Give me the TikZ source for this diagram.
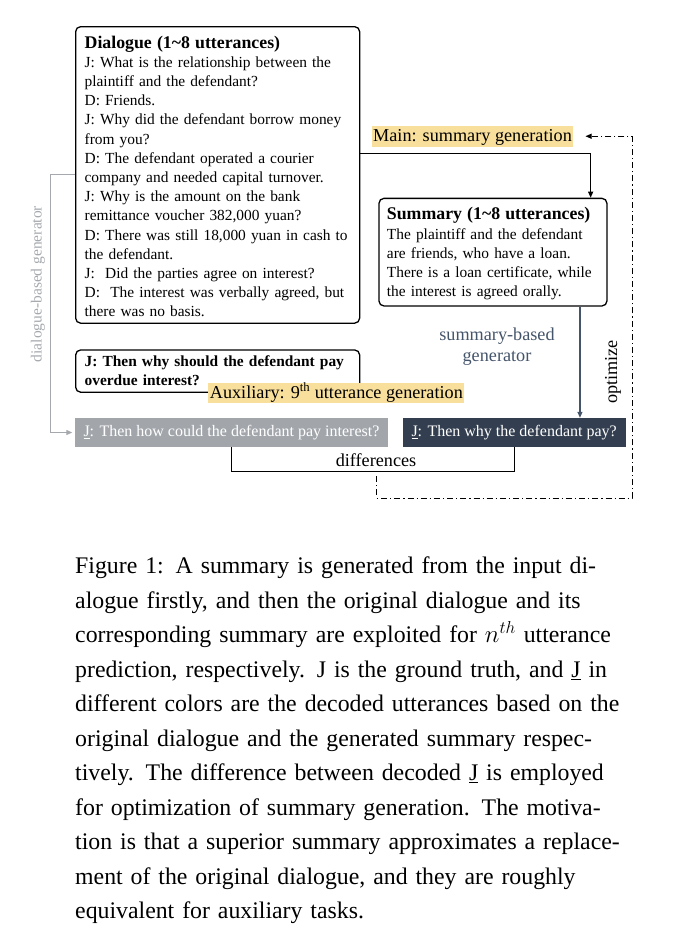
\documentclass[tikz,border=0pt]{standalone}
\usepackage{fontspec}
\setmainfont{Liberation Serif}
\usepackage{tikz}
\usetikzlibrary{arrows.meta, positioning, calc}
\definecolor{HiYellow}{HTML}{F9DF9C}
\definecolor{SlateBlue}{HTML}{44546A}
\definecolor{DarkSlate}{HTML}{333F50}
\definecolor{MidGray}{HTML}{A2A6AB}
\definecolor{LineGray}{HTML}{A5A9AE}

\newcommand{\bodysize}{\fontsize{15.4}{19.2}\selectfont}
\newcommand{\labelsize}{\fontsize{18.2}{21.7}\selectfont}
\newcommand{\capsize}{\fontsize{23.8}{34.5}\selectfont}
\newcommand{\boxtitle}[1]{{\fontsize{17.8}{21.7}\selectfont\bfseries\rule{0pt}{15.5pt}#1}}
\newcommand{\capline}[1]{\makebox[573pt][s]{#1}}

\begin{document}
\begin{tikzpicture}[x=1pt, y=-1pt,
    txtbox/.style={draw, rounded corners=5pt, line width=1.3pt, align=left, inner xsep=9pt, inner ysep=6pt, font=\bodysize, anchor=north west},
    hl/.style={fill=HiYellow, inner xsep=1.5pt, inner ysep=1pt, text height=14.5pt, text depth=4pt, font=\labelsize, anchor=base west},
    uttbox/.style={minimum height=29pt, inner xsep=9pt, font=\fontsize{16}{19}\selectfont, text=white, anchor=west},
    lbl/.style={font=\labelsize},
    arr/.style={-{Triangle[length=6pt,width=5pt]}, line width=1.1pt},
    optline/.style={line width=1pt, dash pattern=on 6pt off 3pt on 1.2pt off 3pt}
]
\useasboundingbox (0,0) rectangle (673,929);

% Input dialogue
\node[txtbox, text width=266pt] (dlg) at (75,26) {\boxtitle{Dialogue (1\textasciitilde8 utterances)}\\
J: What is the relationship between the\\
plaintiff and the defendant?\\
D: Friends.\\
J: Why did the defendant borrow money\\
from you?\\
D: The defendant operated a courier\\
company and needed capital turnover.\\
J: Why is the amount on the bank\\
remittance voucher 382,000 yuan?\\
D: There was still 18,000 yuan in cash to\\
the defendant.\\
J:~ Did the parties agree on interest?\\
D:~ The interest was verbally agreed, but\\
there was no basis.};

% Generated summary
\node[txtbox, text width=212pt, inner xsep=8pt] (sum) at (378.3,197.7) {\boxtitle{Summary (1\textasciitilde8 utterances)}\\
The plaintiff and the defendant\\
are friends, who have a loan.\\
There is a loan certificate, while\\
the interest is agreed orally.};

\node[hl] (main) at (371.5,141.5) {Main: summary generation};

% Ground truth utterance
\node[txtbox, text width=266pt, font=\bodysize\bfseries] (gt) at (75,349.3) {J: Then why should the defendant pay\\
overdue interest?};
\node[hl] (aux) at (208.2,398) {Auxiliary: 9\textsuperscript{th} utterance generation};

% Decoded utterances
\node[uttbox, fill=MidGray] (gbox) at (74.3,432.5) {\underline{J}: Then how could the defendant pay interest?};
\node[uttbox, fill=DarkSlate] (dbox) at (402.3,432.5) {\underline{J}: Then why the defendant pay?};

% Main task
\draw[arr] ([yshift=21pt]dlg.east) -| ([xshift=97.7pt]sum.north);

% Generators
\draw[arr, SlateBlue] ([xshift=87pt]sum.south) -- ([xshift=87pt]sum.south |- dbox.north);
\node[lbl, text=SlateBlue, align=center] (sgen) at (497,346.6) {summary-based\\generator};
\draw[arr, LineGray, shorten >=2pt] (dlg.west) -- ++(-24.3,0) |- (gbox.west);
\node[font=\fontsize{15.5}{18}\selectfont, text=LineGray, rotate=90] (dgen) at (38,284) {dialogue-based generator};

% Differences and optimization loop
\draw[line width=1.1pt] (gbox.south) -- ++(0,24) -| (dbox.south);
\node[lbl, anchor=base] (diff) at (376,466.7) {differences};
\coordinate (dmid) at (376.7,476);
\coordinate (ocorner) at (632,498);
\draw[optline, -{Triangle[length=6pt,width=5pt]}] (dmid) |- (ocorner) |- ([xshift=12pt]main.east);
\node[lbl, rotate=90] (opt) at (613,372) {optimize};

% Caption
\node[anchor=north west, inner sep=0pt, text width=573pt, font=\capsize, align=left] (cap) at (75,556.7) {%
\capline{Figure 1: A summary is generated from the input di-}\\
\capline{alogue firstly, and then the original dialogue and its}\\
\capline{corresponding summary are exploited for $n^{th}$ utterance}\\
\capline{prediction, respectively. J is the ground truth, and \underline{J} in}\\
\capline{different colors are the decoded utterances based on the}\\
\capline{original dialogue and the generated summary respec-}\\
\capline{tively. The difference between decoded \underline{J} is employed}\\
\capline{for optimization of summary generation. The motiva-}\\
\capline{tion is that a superior summary approximates a replace-}\\
\capline{ment of the original dialogue, and they are roughly}\\
equivalent for auxiliary tasks.};
\end{tikzpicture}
\end{document}
